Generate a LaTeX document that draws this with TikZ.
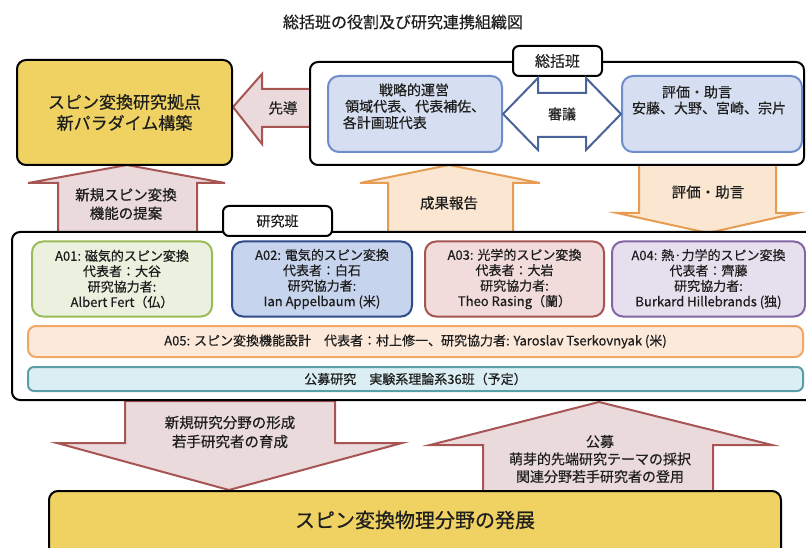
\documentclass[tikz,border=0pt]{standalone}
\usepackage{fontspec}
\setmainfont{Noto Sans CJK JP}[FakeBold=0.5]
\definecolor{txt}{HTML}{1E1E1E}
\definecolor{yfill}{HTML}{EFD262}
\definecolor{pinkf}{HTML}{EBDADB}
\definecolor{pinkd}{HTML}{A65553}
\definecolor{orf}{HTML}{FBE6D1}
\definecolor{ord}{HTML}{E69C52}
\definecolor{bluef}{HTML}{D6DFF1}
\definecolor{blued}{HTML}{6F8DCB}
\definecolor{navy}{HTML}{4A6399}
\definecolor{gf}{HTML}{EBF1DE}
\definecolor{gd}{HTML}{9BBB59}
\definecolor{bf}{HTML}{C7D4EE}
\definecolor{bd}{HTML}{2F4B8A}
\definecolor{rf}{HTML}{F1DCDB}
\definecolor{rd}{HTML}{A65552}
\definecolor{pf}{HTML}{E6E0EE}
\definecolor{pd}{HTML}{8466A6}
\definecolor{of}{HTML}{FCE9DA}
\definecolor{od}{HTML}{F2A865}
\definecolor{tf}{HTML}{DBEEF3}
\definecolor{td}{HTML}{5A9FA8}
\begin{document}
\begin{tikzpicture}[x=1pt,y=-1pt,
  every node/.style={text=txt,inner sep=0pt},
  bigbox/.style={draw=black,line width=2pt,fill=white,rounded corners=8pt},
  lblbox/.style={draw=black,line width=2pt,fill=white,rounded corners=6pt},
  ybox/.style={draw=black,line width=2pt,fill=yfill,rounded corners=9pt},
  inbox/.style={line width=2pt,rounded corners=11pt},
  pinkarrow/.style={draw=pinkd,fill=pinkf,line width=2pt,line join=miter},
  orarrow/.style={draw=ord,fill=orf,line width=2pt,line join=miter},
  dblarrow/.style={draw=navy,fill=white,line width=2pt,line join=miter},
  fA/.style={font=\fontsize{13}{15.4}\selectfont,align=center},
  fB/.style={font=\fontsize{14}{15.2}\selectfont},
  fC/.style={font=\fontsize{14.5}{18.5}\selectfont,align=center}
]
\useasboundingbox (0,0) rectangle (806,548);
\clip (0,0) rectangle (806,548);

% title
\node[font=\fontsize{16}{18}\selectfont] (title) at (403,22) {総括班の役割及び研究連携組織図};

% block arrows (drawn first)
\draw[pinkarrow] (233,107) -- (262,74) -- (262,89) -- (311,89) -- (311,127) -- (262,127) -- (262,144) -- cycle;
\node[fC] (sendo) at (283,108) {先導};

\draw[pinkarrow] (127,165) -- (225,183) -- (197,183) -- (197,233) -- (58,233) -- (58,183) -- (28,183) -- cycle;
\node[fC] (teian) at (126,204) {新規スピン変換\\機能の提案};

\draw[orarrow] (449,165) -- (540,183) -- (513,183) -- (513,233) -- (388,233) -- (388,183) -- (360,183) -- cycle;
\node[fC] (seika) at (449,203) {成果報告};

\draw[orarrow] (639,163) -- (776,163) -- (776,213) -- (797,213) -- (708,233) -- (617,213) -- (639,213) -- cycle;
\node[fC] (hyoka2) at (708,192) {評価・助言};

\draw[pinkarrow] (125,401) -- (335,401) -- (335,443) -- (402,443) -- (229,490) -- (57,443) -- (125,443) -- cycle;
\node[fC,font=\fontsize{14.5}{19}\selectfont] (keisei) at (230,432) {新規研究分野の形成\\若手研究者の育成};

\draw[pinkarrow] (599,402) -- (772,445) -- (713,445) -- (713,492) -- (483,492) -- (483,445) -- (430,445) -- cycle;
\node[fC,font=\fontsize{14}{17.5}\selectfont] (koubo) at (600,459) {公募\\萌芽的先端研究テーマの採択\\関連分野若手研究者の登用};

% top-left yellow box
\node[ybox,minimum width=215,minimum height=105,align=center,font=\fontsize{17}{21}\selectfont] (kyoten) at (124.5,112.5) {スピン変換研究拠点\\新パラダイム構築};

% 総括班 box
\node[bigbox,minimum width=494,minimum height=103] (sokatsu) at (557,113.5) {};
\node[lblbox,minimum width=89,minimum height=30,font=\fontsize{15}{17}\selectfont] (sokatsulbl) at (557.5,61) {総括班};
\node[inbox,draw=blued,fill=bluef,minimum width=174,minimum height=76] (senryaku) at (415,114) {};
\node[fB] (senryakut) at (414,108) {\begin{tabular}{@{}l@{}}\multicolumn{1}{@{}c@{}}{戦略的運営}\\ \,領域代表、代表補佐、\\各計画班代表\end{tabular}};
\node[inbox,draw=blued,fill=bluef,minimum width=180,minimum height=76] (hyoka) at (712,114) {};
\node[fB,align=center] (hyokat1) at (697,92) {評価・助言};
\node[fB,align=center] (hyokat2) at (709,108) {安藤、大野、宮崎、宗片};
\draw[dblarrow] (senryaku.east) -- (538,78) -- (538,93) -- (586,93) -- (586,78) -- (hyoka.west) -- (586,150) -- (586,137) -- (538,137) -- (538,150) -- cycle;
\node[fB] (shingi) at (562,114) {審議};

% 研究班 box
\node[bigbox,minimum width=810,minimum height=168] (kenkyu) at (417,316) {};
\node[lblbox,minimum width=109,minimum height=30,font=\fontsize{14}{17}\selectfont] (kenkyulbl) at (277.5,221) {研究班};
\node[inbox,draw=gd,fill=gf,minimum width=180,minimum height=75,fA] (a01) at (122,279) {A01: 磁気的スピン変換\\代表者：大谷\\研究協力者:\\Albert Fert（仏）};
\node[inbox,draw=bd,fill=bf,minimum width=180,minimum height=75,fA] (a02) at (322,279) {A02: 電気的スピン変換\\代表者：白石\\研究協力者:\\Ian Appelbaum (米)};
\node[inbox,draw=rd,fill=rf,minimum width=179,minimum height=75,fA] (a03) at (514.5,279) {A03: 光学的スピン変換\\代表者：大岩\\研究協力者:\\Theo Rasing（蘭）};
\node[inbox,draw=pd,fill=pf,minimum width=193,minimum height=75,fA] (a04) at (708.5,279) {A04: 熱·力学的スピン変換\\代表者：齊藤\\研究協力者:\\Burkard Hillebrands (独)};
\node[draw=od,fill=of,line width=2pt,rounded corners=8pt,minimum width=775,minimum height=31,fA] (a05) at (415.5,341.5) {A05: スピン変換機能設計　代表者：村上修一、研究協力者: Yaroslav Tserkovnyak (米)};
\node[draw=td,fill=tf,line width=2pt,rounded corners=6pt,minimum width=775,minimum height=24,fA] (koubokenkyu) at (415.5,379) {公募研究　実験系理論系36班（予定）};

% bottom yellow box
\node[ybox,minimum width=732,minimum height=80] (hatten) at (415,531) {};
\node[font=\fontsize{20}{24}\selectfont] (hattent) at (415,520) {スピン変換物理分野の発展};
\end{tikzpicture}
\end{document}
